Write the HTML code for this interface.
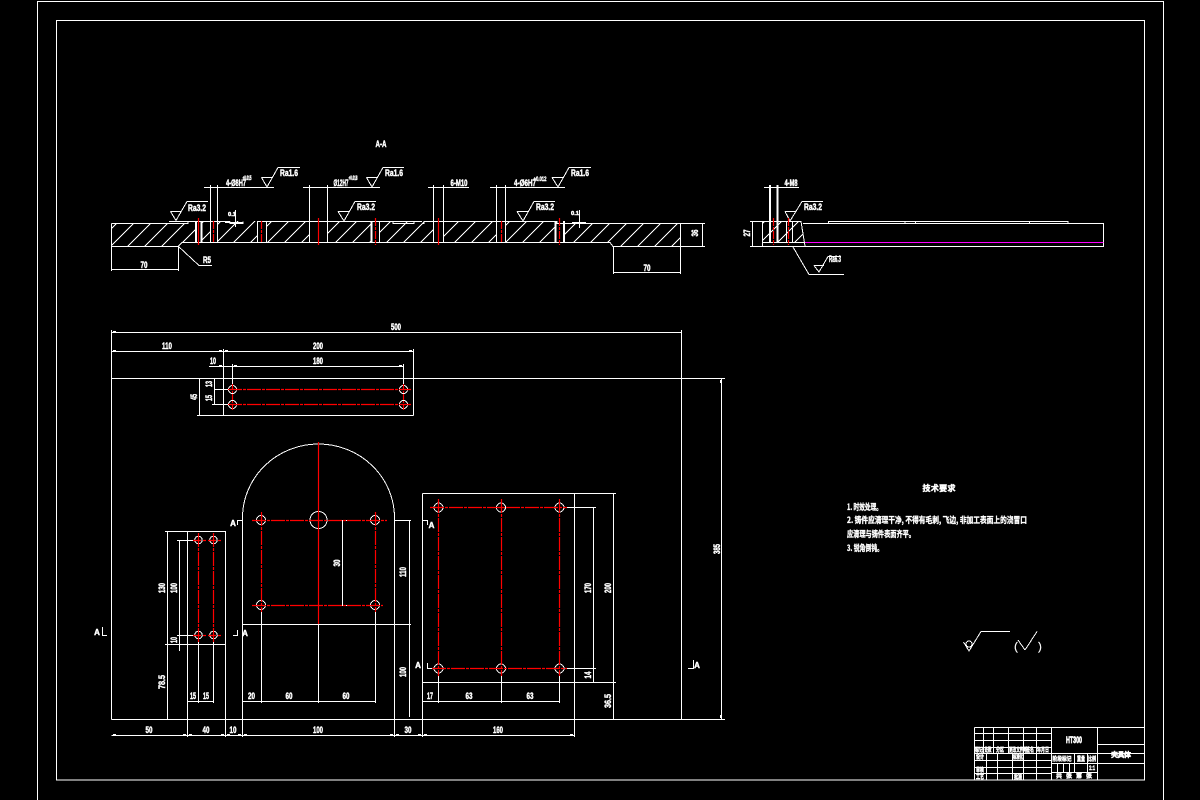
<!DOCTYPE html>
<html><head><meta charset="utf-8"><style>
html,body{margin:0;padding:0;background:#000;width:1200px;height:800px;overflow:hidden}
svg{display:block;shape-rendering:crispEdges}
text{font-family:"Liberation Sans","Noto Sans CJK SC",sans-serif;font-weight:bold;fill:#fff;font-size:9px;text-anchor:middle;stroke:#fff;stroke-width:.45}
.w{stroke:#fff;stroke-width:1;fill:none}
.t{stroke:#fff;stroke-width:2;fill:none}
.r{stroke:#f00;stroke-width:1.2;fill:none;stroke-dasharray:14 1 3 1;shape-rendering:auto}
.s{stroke:#f00;stroke-width:1.2;fill:none;shape-rendering:auto}
.h{stroke:#fff;stroke-width:1}
.c{font-family:"Noto Sans CJK SC",sans-serif;font-size:8.5px;text-anchor:start;stroke-width:.35}
.j{font-family:"Noto Sans CJK SC",sans-serif;font-size:6px}
</style></head><body>
<svg width="1200" height="800" viewBox="0 0 1200 800" xmlns="http://www.w3.org/2000/svg">
<defs>
<pattern id="hp" patternUnits="userSpaceOnUse" width="17" height="17">
<path d="M-1 18L18 -1" class="h"/><path d="M-1 1L1 -1M16 18L18 16" class="h"/>
</pattern>
</defs>
<rect width="1200" height="800" fill="#000"/>
<!-- frames -->
<path class="w" d="M37.500 800V1.500H1163.500V800"/>
<rect class="w" x="56.500" y="20.500" width="1088" height="759.500"/>

<!-- section A-A hatch -->
<g fill="url(#hp)" stroke="none">
<path d="M111 223H188V221H195V242H182L178 246H111Z"/>
<path d="M201 221H210V242H201Z"/>
<path d="M217 221H257V242H217Z"/>
<path d="M266 221H309V242H266Z"/>
<path d="M327 221H371V242H327Z"/>
<path d="M379 221H433V242H379Z"/>
<path d="M443 221H496V242H443Z"/>
<path d="M505 221H555V242H505Z"/>
<path d="M564 223H680V247H613L609 242H564Z"/>
<path d="M762 221H801L805 242H762Z"/>
</g>
<!-- section outline -->
<path class="w" d="M111.500 223.500H188V221.500H230M257 221.500H393V223.500H414V221.500H422M422 223.500H424V221.500H557V223.500H705"/>
<path class="w" d="M111.500 223.500V246.500H178L182 242.500H610L613 246.500H705M680.500 223.500V246.500"/>
<path class="w" d="M230 221.500V223.500H243V221.500M393 221.500H414"/>
<path class="t" d="M196 221V242M201.500 221V242M371.500 221V242M555.500 221V242M564 221V242"/>
<path class="w" d="M210.500 185V242M217.500 185V242M257.500 221V242M266.500 221V242M309.500 185V242M327.500 185V242M379.500 221V242M433.500 185V242M443.500 185V242M496.500 185V242M505.500 185V242"/>
<!-- dims section -->
<path class="w" d="M204 187.500H274M303 187.500H380M428 187.500H469M490 187.500H565"/>
<path class="w" d="M111.500 246V271M178.500 246V271M111.500 269.500H178.500M613.500 247V274M680.500 247V274M613.500 272.500H680.500M702.500 223V247"/>
<path class="w" d="M178 246L199 265.500H212"/>
<!-- red section -->
<path class="s" d="M198.500 218V245M318.500 218V245M438.500 218V245"/>
<path class="s" style="stroke-dasharray:8 1 3 1" d="M213.500 221V242M261.500 221V242M375.500 218V245M501.500 221V242M559.500 218V245"/>
<!-- surface symbols -->
<path class="w" d="M170.500 211.500L176 220.500L187 201.500H208M170.500 211.500H181.500M169 221.500H188"/>
<path class="w" d="M261.500 177.500L267 187L278 167.500H300M261.500 177.500H272.500"/>
<path class="w" d="M366.500 177.500L372 187L383 167.500H404M366.500 177.500H377.500"/>
<path class="w" d="M338 211.500L344 221L355 201.500H376M338 211.500H349"/>
<path class="w" d="M552 177.500L558 187L569 167.500H591M552 177.500H563"/>
<path class="w" d="M517 211.500L523 221L534 201.500H555M517 211.500H528"/>
<path class="w" d="M785 211.500L790 221L802 201.500H823M785 211.500H796"/>
<path class="w" d="M814 265.500L819 272L828 256.500H841M814 265.500H824"/>
<text x="381" y="147" textLength="11" lengthAdjust="spacingAndGlyphs">A-A</text>
<text x="197" y="211" textLength="18" lengthAdjust="spacingAndGlyphs">Ra3.2</text>
<text x="289" y="176" textLength="18" lengthAdjust="spacingAndGlyphs">Ra1.6</text>
<text x="394" y="176" textLength="18" lengthAdjust="spacingAndGlyphs">Ra1.6</text>
<text x="366" y="210" textLength="18" lengthAdjust="spacingAndGlyphs">Ra3.2</text>
<text x="580" y="176" textLength="18" lengthAdjust="spacingAndGlyphs">Ra1.6</text>
<text x="545" y="210" textLength="18" lengthAdjust="spacingAndGlyphs">Ra3.2</text>
<text x="813" y="210" textLength="18" lengthAdjust="spacingAndGlyphs">Ra3.2</text>
<text x="835" y="262" textLength="12" lengthAdjust="spacingAndGlyphs">Ra6.3</text>
<text x="236" y="186" textLength="20" lengthAdjust="spacingAndGlyphs">4-Ø8H7</text>
<text x="247" y="180" style="font-size:6px" textLength="9" lengthAdjust="spacingAndGlyphs">+0.015</text>
<text x="341" y="186" textLength="15" lengthAdjust="spacingAndGlyphs">Ø12H7</text>
<text x="353" y="180" style="font-size:6px" textLength="9" lengthAdjust="spacingAndGlyphs">+0.018</text>
<text x="459" y="186" textLength="17" lengthAdjust="spacingAndGlyphs">6-M10</text>
<text x="525" y="186" textLength="22" lengthAdjust="spacingAndGlyphs">4-Ø6H7</text>
<text x="540" y="181" style="font-size:6px" textLength="13" lengthAdjust="spacingAndGlyphs">+0.012</text>
<text x="207" y="263" textLength="8" lengthAdjust="spacingAndGlyphs">R5</text>
<text x="144" y="268" textLength="7" lengthAdjust="spacingAndGlyphs">70</text>
<text x="647" y="271" textLength="7" lengthAdjust="spacingAndGlyphs">70</text>
<text x="232" y="216" style="font-size:5px" textLength="8" lengthAdjust="spacingAndGlyphs">0.1</text>
<text x="575" y="215" style="font-size:5px" textLength="8" lengthAdjust="spacingAndGlyphs">0.1</text>
<path class="w" d="M235.500 210V227M225 222.500H243M579.500 210V228M572 222.500H586"/>
<text transform="translate(698,233) rotate(-90)" textLength="7" lengthAdjust="spacingAndGlyphs">36</text>

<!-- right section -->
<path class="w" d="M750 221.500H801L805 246M803 223.500H1103.500V246.500H750M762.500 221V246M762 242.500H805M752.500 221V246"/>
<path class="t" d="M770 185V242M777.500 185V242"/>
<path class="w" d="M786.500 221V242M792.500 221V242M764 187.500H799"/>
<path class="s" style="stroke-dasharray:8 1 3 1" d="M773.500 218V245M788.500 218V245"/>
<path d="M805 242.500H1103.500" stroke="#f0f" stroke-width="1" fill="none"/>
<path class="w" d="M828.500 223V221.500H1068V223M905 221.500V223M915.500 221.500V223M1029.500 221.500V223"/>
<path class="w" d="M793 247L809 274.500H844"/>
<text x="791" y="186" textLength="13" lengthAdjust="spacingAndGlyphs">4-M8</text>
<text transform="translate(750,233) rotate(-90)" textLength="7" lengthAdjust="spacingAndGlyphs">27</text>

<!-- long dims -->
<path class="w" d="M111.500 330V719.500M111.500 332.500H681M681.500 330V719.500M111.500 351.500H413.500M223.500 349V415.500M413.500 349V415.500M197 415.500H413.500M111.500 378.500H725M209 366.500H403.500M232.500 364V385M403.500 364V385M214.500 378.500V404.500M214 389.500H228M212 404.500H228M199.500 378.500V415.500M111.500 719.500H725M111.500 735.500H575"/>
<!-- dimension end ticks -->
<path class="w" d="M113 331.500H116M113 350.500H116M219 350.500H222M225 350.500H228M409 350.500H412M219 365.500H222M234 365.500H237M399 365.500H402M113 734.500H116M183 734.500H186M189 734.500H192M221 734.500H224M227 734.500H230M238 734.500H241M244 734.500H247M390 734.500H393M396 734.500H399M418 734.500H421M424 734.500H427M570 734.500H573M720.500 380V383M720.500 715V718"/>
<text x="396" y="330" textLength="10" lengthAdjust="spacingAndGlyphs">500</text>
<text x="167" y="349" textLength="10" lengthAdjust="spacingAndGlyphs">110</text>
<text x="318" y="349" textLength="10" lengthAdjust="spacingAndGlyphs">200</text>
<text x="213" y="364" textLength="6" lengthAdjust="spacingAndGlyphs">10</text>
<text x="318" y="364" textLength="10" lengthAdjust="spacingAndGlyphs">180</text>
<text transform="translate(197,397) rotate(-90)" textLength="6" lengthAdjust="spacingAndGlyphs">45</text>
<text transform="translate(212,384) rotate(-90)" textLength="6" lengthAdjust="spacingAndGlyphs">13</text>
<text transform="translate(212,398) rotate(-90)" textLength="6" lengthAdjust="spacingAndGlyphs">15</text>
<!-- top view holes -->
<circle class="w" cx="232.500" cy="389.500" r="4"/><circle class="w" cx="403.500" cy="389.500" r="4"/>
<circle class="w" cx="232.500" cy="404.500" r="4"/><circle class="w" cx="403.500" cy="404.500" r="4"/>
<path class="r" d="M228 389.500H411M228 404.500H411"/>
<path class="r" style="stroke-dasharray:6 1 2 1" d="M232.500 384V411M403.500 384V411"/>

<!-- left view -->
<path class="w" d="M165 531.500H226M167.500 531.500V719.500M187.500 531.500V737M225.500 531.500V737M165 644.500H225.500M179.500 540V651M177 540.500H198M177 635.500H198M198.500 641V703M213.500 641V703M187.500 701.500H213.500"/>
<circle class="w" cx="198.500" cy="540" r="3.800"/><circle class="w" cx="213.500" cy="540" r="3.800"/>
<circle class="w" cx="198.500" cy="635" r="3.800"/><circle class="w" cx="213.500" cy="635" r="3.800"/>
<path class="r" d="M198.500 533V642M213.500 533V642"/>
<path class="r" style="stroke-dasharray:8 2 3 2" d="M193 540.500H221M193 635.500H221"/>
<text transform="translate(165,588) rotate(-90)" textLength="10" lengthAdjust="spacingAndGlyphs">130</text>
<text transform="translate(177,588) rotate(-90)" textLength="10" lengthAdjust="spacingAndGlyphs">100</text>
<text transform="translate(177,640) rotate(-90)" textLength="6" lengthAdjust="spacingAndGlyphs">10</text>
<text transform="translate(165,682) rotate(-90)" textLength="14" lengthAdjust="spacingAndGlyphs">78.5</text>
<text x="193" y="699" textLength="6" lengthAdjust="spacingAndGlyphs">15</text>
<text x="206" y="699" textLength="6" lengthAdjust="spacingAndGlyphs">15</text>
<text x="149" y="733" textLength="7" lengthAdjust="spacingAndGlyphs">50</text>
<text x="206" y="733" textLength="7" lengthAdjust="spacingAndGlyphs">40</text>
<text x="233" y="733" textLength="7" lengthAdjust="spacingAndGlyphs">10</text>

<!-- A marks -->
<path class="w" d="M102.500 627V635.500H107M233 635.500H237.500V630M237.500 525V520.500H243M422 520.500H427.500V525M427.500 663V668.500H432M688 668.500H693.500V660"/>
<text x="97" y="635" style="font-size:8px">A</text>
<text x="245" y="636" style="font-size:8px">A</text>
<text x="233" y="526" style="font-size:8px">A</text>
<text x="431.500" y="528" style="font-size:8px">A</text>
<text x="418" y="668" style="font-size:8px">A</text>
<text x="697" y="668" style="font-size:8px">A</text>

<!-- middle view -->
<path class="w" d="M242.500 737V518A76 74 0 0 1 394.500 518V737M394 520.500H411M242 624.500H411M409.500 520V717M261.500 612V703M318.500 624V703M375.500 612V703M242.500 701.500H375.500M342.500 520V605M340 520.500H347M340 605.500H347"/>
<circle class="w" cx="261" cy="520" r="4.500"/><circle class="w" cx="375" cy="520" r="4.500"/>
<circle class="w" cx="261" cy="605" r="4.500"/><circle class="w" cx="375" cy="605" r="4.500"/>
<circle class="w" cx="318.500" cy="520" r="8.500"/>
<path class="r" d="M252 520.500H387M252 605.500H383M261.500 512V612M375.500 512V612"/>
<path class="s" d="M318.500 442V624"/>
<text transform="translate(340,563) rotate(-90)" textLength="7" lengthAdjust="spacingAndGlyphs">30</text>
<text transform="translate(406,572) rotate(-90)" textLength="10" lengthAdjust="spacingAndGlyphs">110</text>
<text transform="translate(406,672) rotate(-90)" textLength="10" lengthAdjust="spacingAndGlyphs">100</text>
<text x="251.500" y="699" textLength="7" lengthAdjust="spacingAndGlyphs">20</text>
<text x="289" y="699" textLength="7" lengthAdjust="spacingAndGlyphs">60</text>
<text x="346" y="699" textLength="7" lengthAdjust="spacingAndGlyphs">60</text>
<text x="318" y="733" textLength="10" lengthAdjust="spacingAndGlyphs">100</text>
<text x="408" y="733" textLength="7" lengthAdjust="spacingAndGlyphs">30</text>

<!-- right view -->
<path class="w" d="M422.500 493.500V737M574.500 493.500V737M422.500 493.500H616M422.500 682.500H616M438.500 676V703M501.500 676V703M559.500 676V703M422.500 701.500H559.500M593.500 507V682M567 507.500H596M567 668.500H596M613.500 493V719"/>
<circle class="w" cx="438.500" cy="507.500" r="4.500"/><circle class="w" cx="501" cy="507.500" r="4.500"/><circle class="w" cx="559.500" cy="507.500" r="4.500"/>
<circle class="w" cx="438.500" cy="668.500" r="4.500"/><circle class="w" cx="501" cy="668.500" r="4.500"/><circle class="w" cx="559.500" cy="668.500" r="4.500"/>
<path class="r" d="M430 507.500H567M432 668.500H567M438.500 499V676M501.500 499V676M559.500 499V676"/>
<text x="430" y="699" textLength="6" lengthAdjust="spacingAndGlyphs">17</text>
<text x="469" y="699" textLength="7" lengthAdjust="spacingAndGlyphs">63</text>
<text x="530" y="699" textLength="7" lengthAdjust="spacingAndGlyphs">63</text>
<text transform="translate(591,588) rotate(-90)" textLength="10" lengthAdjust="spacingAndGlyphs">170</text>
<text transform="translate(591,675) rotate(-90)" textLength="7" lengthAdjust="spacingAndGlyphs">14</text>
<text transform="translate(611,588) rotate(-90)" textLength="10" lengthAdjust="spacingAndGlyphs">200</text>
<text transform="translate(611,701) rotate(-90)" textLength="14" lengthAdjust="spacingAndGlyphs">36.5</text>
<text x="498" y="733" textLength="10" lengthAdjust="spacingAndGlyphs">160</text>

<!-- far right dim -->
<path class="w" d="M721.500 378V719"/>
<text transform="translate(720,549) rotate(-90)" textLength="10" lengthAdjust="spacingAndGlyphs">385</text>

<!-- tech requirements -->
<text x="939" y="491" style="font-family:'Noto Sans CJK SC',sans-serif;font-size:8px" textLength="33" lengthAdjust="spacing">技术要求</text>
<text class="c" x="847" y="510" textLength="35" lengthAdjust="spacingAndGlyphs">1. 时效处理。</text>
<text class="c" x="847" y="523" textLength="180" lengthAdjust="spacingAndGlyphs">2. 铸件应清理干净, 不得有毛刺, 飞边, 非加工表面上的浇冒口</text>
<text class="c" x="847" y="537" textLength="68" lengthAdjust="spacingAndGlyphs">应清理与铸件表面齐平。</text>
<text class="c" x="847" y="551" textLength="36" lengthAdjust="spacingAndGlyphs">3. 锐角倒钝。</text>
<path class="w" d="M963.500 642L969 651L981 631.500H1010M1025 650L1018 640M1025 650L1037 631.500"/>
<circle class="w" cx="969" cy="644" r="3"/>
<text x="1016" y="650" style="font-weight:normal;font-size:11px;stroke-width:.2">(</text>
<text x="1040" y="650" style="font-weight:normal;font-size:11px;stroke-width:.2">)</text>

<!-- title block -->
<path class="w" d="M974.500 727.500H1144.500M974.500 727.500V780M1051.500 727.500V780M1097.500 727.500V780"/>
<path class="w" d="M974.500 733.500H1051M974.500 740.500H1051M974.500 747.500H1051M974.500 753.500H1144M974.500 760.500H1051M974.500 767.500H1051M974.500 773.500H1051"/>
<path class="w" d="M983.500 727.500V753M993.500 727.500V753M1008.500 727.500V753M1023.500 727.500V753M1036.500 727.500V753"/>
<path class="w" d="M986.500 753V780M997.500 753V780M1012.500 753V780M1023.500 753V780M1036.500 753V780"/>
<path class="w" d="M1051 763.500H1144.500M1051 772.500H1097M1074.500 753V772.500M1087.500 753V772.500M1057.500 763.500V772.500M1063.500 763.500V772.500M1069.500 763.500V772.500M1097 744.500H1144.500"/>
<text x="1074" y="743" style="font-size:9px;stroke-width:.7" textLength="16" lengthAdjust="spacingAndGlyphs">HT300</text>
<text x="1121" y="757" style="font-family:'Noto Sans CJK SC',sans-serif;font-size:7px;stroke-width:.5" textLength="20" lengthAdjust="spacing">夹具体</text>
<text class="j" x="979" y="752" textLength="8" lengthAdjust="spacingAndGlyphs">标记</text>
<text class="j" x="988" y="752" textLength="7" lengthAdjust="spacingAndGlyphs">处数</text>
<text class="j" x="1000" y="752" textLength="8" lengthAdjust="spacingAndGlyphs">分区</text>
<text class="j" x="1018" y="752" textLength="18" lengthAdjust="spacingAndGlyphs">更改文件号</text>
<text class="j" x="1030" y="752" textLength="8" lengthAdjust="spacingAndGlyphs">签名</text>
<text class="j" x="1043" y="752" textLength="12" lengthAdjust="spacingAndGlyphs">年月日</text>
<text class="j" x="980" y="759" textLength="8" lengthAdjust="spacingAndGlyphs">设计</text>
<text class="j" x="1018" y="759" textLength="10" lengthAdjust="spacingAndGlyphs">标准化</text>
<text class="j" x="980" y="772" textLength="8" lengthAdjust="spacingAndGlyphs">审核</text>
<text class="j" x="980" y="779" textLength="8" lengthAdjust="spacingAndGlyphs">工艺</text>
<text class="j" x="1018" y="779" textLength="8" lengthAdjust="spacingAndGlyphs">批准</text>
<text class="j" x="1062" y="761" textLength="19" lengthAdjust="spacingAndGlyphs">阶段标记</text>
<text class="j" x="1081" y="761" textLength="8" lengthAdjust="spacingAndGlyphs">重量</text>
<text class="j" x="1092" y="761" textLength="8" lengthAdjust="spacingAndGlyphs">比例</text>
<text x="1092" y="770" style="font-size:6px" textLength="6" lengthAdjust="spacingAndGlyphs">1:1</text>
<text class="j" x="1074" y="778" textLength="36" lengthAdjust="spacing">共 张 第 张</text>
</svg>
</body></html>
